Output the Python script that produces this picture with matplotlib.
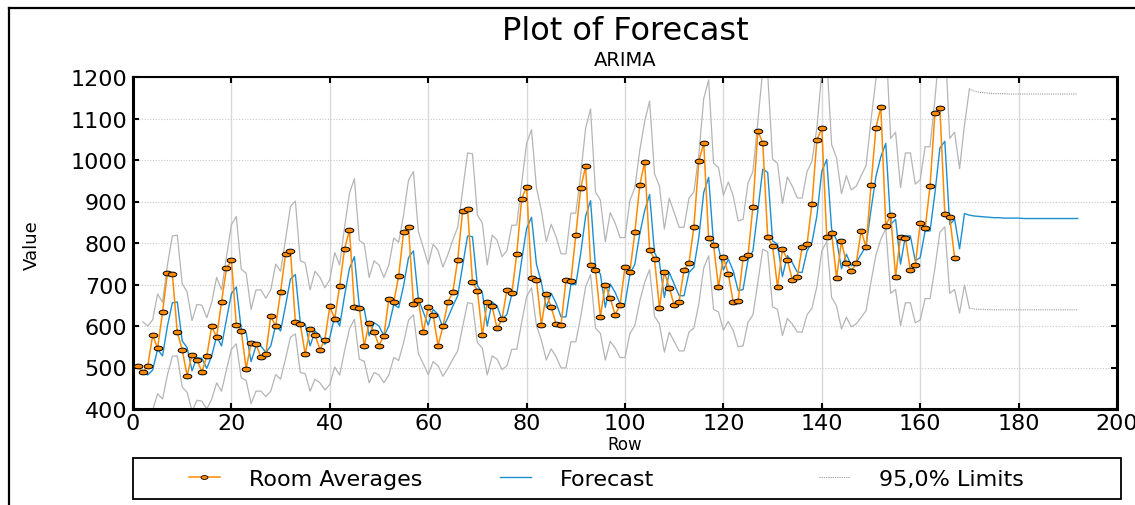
import numpy as np
import matplotlib
matplotlib.use("Agg")
import matplotlib.pyplot as plt
from matplotlib.path import Path
from matplotlib.lines import Line2D
from matplotlib.patches import Rectangle

# Observed series (rows 1..167)
room_averages = [
    503, 489, 504, 578, 546, 633, 728, 725, 585, 543, 480, 531,
    519, 489, 528, 599, 573, 659, 739, 758, 603, 588, 497, 559,
    556, 525, 533, 624, 599, 683, 774, 781, 610, 605, 532, 592,
    579, 543, 567, 647, 617, 697, 786, 831, 646, 644, 552, 607,
    585, 553, 577, 666, 657, 721, 827, 839, 653, 662, 585, 646,
    626, 553, 599, 658, 681, 760, 878, 882, 706, 685, 578, 657,
    647, 594, 617, 687, 679, 774, 907, 935, 715, 712, 602, 678,
    646, 604, 603, 711, 708, 819, 932, 985, 748, 736, 622, 700,
    667, 627, 651, 742, 731, 826, 939, 996, 783, 761, 644, 730,
    692, 650, 659, 736, 751, 839, 997, 1041, 811, 795, 694, 766,
    725, 657, 660, 763, 770, 887, 1070, 1041, 815, 792, 694, 785,
    760, 711, 717, 790, 797, 895, 1048, 1077, 815, 823, 716, 804,
    751, 733, 751, 829, 790, 939, 1078, 1127, 842, 867, 719, 815,
    813, 734, 747, 847, 835, 937, 1114, 1126, 871, 862, 764,
]

# One-step forecasts and forecasts beyond the data (rows 2..192)
forecast = [
    490, 482, 494, 544, 528, 600, 656, 658, 564, 548,
    492, 524, 522, 498, 528, 576, 552, 616, 678, 694,
    592, 584, 514, 552, 552, 536, 552, 602, 588, 649,
    713, 724, 608, 604, 552, 588, 576, 556, 572, 624,
    600, 673, 739, 767, 647, 641, 576, 608, 600, 576,
    600, 652, 644, 697, 765, 781, 665, 634, 602, 640,
    628, 596, 620, 648, 673, 745, 817, 815, 697, 681,
    600, 658, 648, 616, 628, 677, 677, 758, 835, 862,
    749, 705, 645, 679, 655, 622, 622, 700, 700, 775,
    865, 902, 741, 725, 645, 701, 681, 653, 653, 725,
    749, 822, 878, 917, 777, 753, 669, 729, 701, 673,
    673, 729, 741, 813, 922, 958, 797, 789, 735, 761,
    733, 685, 688, 759, 781, 878, 978, 970, 805, 797,
    719, 770, 753, 730, 729, 781, 801, 865, 973, 1001,
    833, 807, 738, 773, 745, 753, 773, 793, 880, 960,
    1008, 1040, 845, 857, 749, 817, 817, 757, 765, 829,
    829, 921, 1029, 1045, 845, 857, 786, 871,
    867, 865, 864, 863, 862, 861, 861, 860, 860, 860, 860, 859,
    859, 859, 859, 859, 859, 859, 859, 859, 859, 859, 859,
]

upper_limit = [
    610, 600, 615, 677, 657, 747, 817, 819, 702, 682,
    613, 652, 650, 620, 657, 717, 687, 767, 844, 864,
    737, 727, 640, 687, 687, 667, 687, 749, 732, 808,
    888, 901, 757, 752, 687, 732, 717, 692, 712, 777,
    747, 838, 920, 955, 806, 798, 717, 757, 747, 717,
    747, 812, 802, 868, 952, 972, 828, 789, 749, 797,
    782, 742, 772, 807, 838, 928, 1017, 1015, 868, 848,
    747, 819, 807, 767, 782, 843, 843, 944, 1040, 1073,
    933, 878, 803, 845, 815, 774, 774, 872, 872, 965,
    1077, 1123, 923, 903, 803, 873, 848, 813, 813, 903,
    933, 1023, 1093, 1142, 967, 937, 833, 908, 873, 838,
    838, 908, 923, 1012, 1148, 1193, 992, 982, 915, 947,
    913, 853, 857, 945, 972, 1093, 1218, 1208, 1002, 992,
    895, 959, 937, 909, 908, 972, 997, 1077, 1211, 1246,
    1037, 1005, 919, 962, 928, 937, 962, 987, 1096, 1195,
    1255, 1295, 1052, 1067, 933, 1017, 1017, 942, 952, 1032,
    1032, 1147, 1281, 1301, 1052, 1067, 979, 1084,
    1171, 1166, 1163, 1162, 1161, 1160, 1160, 1160, 1159, 1159,
    1159, 1159, 1159, 1159, 1159, 1159, 1159, 1159, 1159, 1159,
    1159, 1159, 1159,
]

lower_limit = [
    393, 387, 397, 437, 424, 482, 527, 528, 453, 440,
    395, 421, 419, 400, 424, 463, 443, 495, 544, 557,
    475, 469, 413, 443, 443, 430, 443, 483, 472, 521,
    573, 581, 488, 485, 443, 472, 463, 446, 459, 501,
    482, 540, 593, 616, 520, 515, 463, 488, 482, 463,
    482, 524, 517, 560, 614, 627, 534, 509, 483, 514,
    504, 479, 498, 520, 540, 598, 656, 654, 560, 547,
    482, 528, 520, 495, 504, 544, 544, 609, 671, 692,
    601, 566, 518, 545, 526, 499, 499, 562, 562, 622,
    695, 724, 595, 582, 518, 563, 547, 524, 524, 582,
    601, 660, 705, 736, 624, 605, 537, 585, 563, 540,
    540, 585, 595, 653, 740, 769, 640, 634, 590, 611,
    589, 550, 552, 609, 627, 705, 785, 779, 646, 640,
    577, 618, 605, 586, 585, 627, 643, 695, 781, 804,
    669, 648, 593, 621, 598, 605, 621, 637, 707, 771,
    809, 835, 679, 688, 601, 656, 656, 608, 614, 666,
    666, 740, 826, 839, 679, 688, 631, 699,
    643, 641, 640, 640, 639, 639, 639, 639, 639, 639,
    639, 639, 639, 639, 639, 639, 639, 639, 639, 639,
    639, 639, 639,
]

x_ticks = [0, 20, 40, 60, 80, 100, 120, 140, 160, 180, 200]
y_ticks = [400, 500, 600, 700, 800, 900, 1000, 1100, 1200]

plt.rcParams['font.family'] = ['DejaVu Sans']

W, H = 1135, 506
fig = plt.figure(figsize=(W / 100, H / 100), dpi=100)

rows_obs = np.arange(1, len(room_averages) + 1)
rows_fc = np.arange(2, len(forecast) + 2)
n_obs = len(room_averages)
split = n_obs + 1  # where the dotted horizon part of the limits begins

ax = fig.add_axes([133 / W, (H - 410) / H, (1117 - 133) / W, 332 / H])

# wide, flat dots like the original markers
t = np.linspace(0, 2 * np.pi, 40)
ellipse = Path(np.column_stack([np.cos(t), 0.55 * np.sin(t)]), closed=True)

limit_color = '#b5b5b5'
ax.plot(rows_fc[:split + 1], upper_limit[:split + 1], color=limit_color, lw=0.9, zorder=2)
ax.plot(rows_fc[:split + 1], lower_limit[:split + 1], color=limit_color, lw=0.9, zorder=2)
ax.plot(rows_fc[split:], upper_limit[split:], color='#9a9a9a', lw=0.8, ls=(0, (1, 1)), zorder=2)
ax.plot(rows_fc[split:], lower_limit[split:], color='#9a9a9a', lw=0.8, ls=(0, (1, 1)), zorder=2)

ax.plot(rows_fc, forecast, color='#1b8fd2', lw=1.0, zorder=3)
ax.plot(rows_obs, room_averages, color='#ff8a00', lw=1.1, marker=ellipse,
        markersize=6.2, markerfacecolor='#ff8a00', markeredgecolor='black',
        markeredgewidth=0.7, zorder=4)

ax.set_xlim(0, 200)
ax.set_ylim(400, 1200)
ax.set_xticks(x_ticks)
ax.set_yticks(y_ticks)
ax.tick_params(direction='in', length=4, width=1.5, top=True, right=True,
               labelsize=16, pad=4, colors='black')
ax.tick_params(axis='x', pad=3)
ax.grid(axis='x', color='#d9d9d9', lw=1.0, ls='-')
ax.grid(axis='y', color='#c8c8c8', lw=0.8, ls=(0, (1, 1.5)))
ax.set_axisbelow(True)
for side in ['left', 'bottom', 'right']:
    ax.spines[side].set_linewidth(2.2)
ax.spines['top'].set_linewidth(1.5)

ax.set_xlabel('Row', fontsize=12, labelpad=1)
fig.text(32 / W, 1 - 245 / H, 'Value', rotation=90, ha='center', va='center', fontsize=13)

fig.text(625 / W, 1 - 31 / H, 'Plot of Forecast', ha='center', va='center', fontsize=23)
fig.text(625 / W, 1 - 60 / H, 'ARIMA', ha='center', va='center', fontsize=14)

# outer frame of the original window (left and top edges)
fig.add_artist(Line2D([9 / W, 9 / W], [0, 1 - 9 / H], transform=fig.transFigure, color='black', lw=1.6))
fig.add_artist(Line2D([9 / W, 1], [1 - 9 / H, 1 - 9 / H], transform=fig.transFigure, color='black', lw=1.6))

# legend box spanning the plot width
fig.add_artist(Rectangle((133 / W, 1 - 500 / H), (1121 - 133) / W, 41 / H,
                         transform=fig.transFigure, fill=False, edgecolor='black', lw=1.3))

h_obs = Line2D([], [], color='#ff8a00', lw=1.1, marker=ellipse, markersize=5,
               markerfacecolor='#ff8a00', markeredgecolor='black', markeredgewidth=0.6,
               markevery=[1])
h_fc = Line2D([], [], color='#1b8fd2', lw=1.0)
h_lim = Line2D([], [], color='#9a9a9a', lw=0.8, ls=(0, (1, 1)))

legend_items = [(h_obs, 'Room Averages', 177), (h_fc, 'Forecast', 488), (h_lim, '95,0% Limits', 807)]
for handle, label, xpix in legend_items:
    fig.legend([handle], [label], loc='center left',
               bbox_to_anchor=((xpix - 4) / W, 1 - 480 / H), frameon=False,
               fontsize=16, handlelength=1.4, handletextpad=1.3, borderpad=0.2)

fig.savefig('out.png', dpi=100)
